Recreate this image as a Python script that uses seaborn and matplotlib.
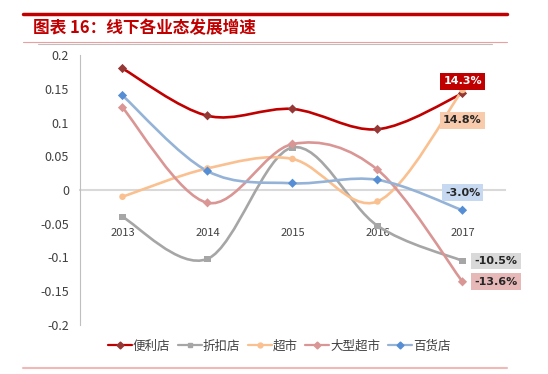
import numpy as np
import pandas as pd
import seaborn as sns
import matplotlib.pyplot as plt
from matplotlib.path import Path
from matplotlib.patches import PathPatch
from matplotlib.lines import Line2D

years = ['2013', '2014', '2015', '2016', '2017']
series = ['便利店', '折扣店', '超市', '大型超市', '百货店']
bianli = [0.180, 0.110, 0.120, 0.090, 0.143]
zhekou = [-0.040, -0.102, 0.063, -0.053, -0.105]
chaoshi = [-0.010, 0.032, 0.046, -0.017, 0.148]
daxing = [0.122, -0.019, 0.068, 0.030, -0.136]
baihuo = [0.140, 0.028, 0.010, 0.015, -0.030]
labels_2017 = ['14.3%', '-10.5%', '14.8%', '-13.6%', '-3.0%']

line_colors = ['#C00000', '#A6A6A6', '#FAC090', '#D99694', '#95B3D7']
marker_colors = ['#953735', '#A6A6A6', '#FAC090', '#D99694', '#558ED5']
marker_shapes = ['D', 's', 'o', 'D', 'D']
box_colors = ['#C00000', '#D9D9D9', '#F8CBAD', '#E6B9B8', '#C6D9F1']
text_colors = ['white', '#262626', '#262626', '#262626', '#262626']

sns.set_style('white')
plt.rcParams['font.family'] = ['Noto Sans CJK SC', 'DejaVu Sans']

values = [bianli, zhekou, chaoshi, daxing, baihuo]
df = pd.DataFrame({
    'x': np.tile(np.arange(len(years)), len(series)),
    'y': np.concatenate(values),
    'series': np.repeat(series, len(years)),
})

fig = plt.figure(figsize=(5.48, 3.74), dpi=100)
ax = fig.add_axes([80 / 548, 1 - 325 / 374, 425 / 548, 270 / 374])


def smooth_path(xs, ys):
    # excel style smoothing: catmull-rom -> cubic bezier
    pts = np.column_stack([xs, ys]).astype(float)
    verts = [pts[0]]
    codes = [Path.MOVETO]
    n = len(pts)
    for i in range(n - 1):
        p0 = pts[max(i - 1, 0)]
        p1 = pts[i]
        p2 = pts[i + 1]
        p3 = pts[min(i + 2, n - 1)]
        c1 = p1 + (p2 - p0) / 6
        c2 = p2 - (p3 - p1) / 6
        verts += [c1, c2, p2]
        codes += [Path.CURVE4] * 3
    return Path(verts, codes)


for name, vals, lc in zip(series, values, line_colors):
    ax.add_patch(PathPatch(smooth_path(np.arange(len(years)), vals),
                           facecolor='none', edgecolor=lc, lw=1.9, zorder=2))

sns.scatterplot(data=df, x='x', y='y', hue='series', style='series',
                palette=dict(zip(series, marker_colors)),
                markers=dict(zip(series, marker_shapes)),
                s=22, edgecolor='none', legend=False, ax=ax, zorder=3)

# data labels for 2017
offsets = [(0, 0.018), (0.14, 0.0), (0.0, -0.045), (0.14, 0.0), (0.0, 0.026)]
aligns = ['center', 'left', 'center', 'left', 'center']
for vals, lab, (dx, dy), ha, bc, tc in zip(values, labels_2017, offsets, aligns, box_colors, text_colors):
    ax.text(4 + dx, vals[4] + dy, lab, ha=ha, va='center', fontsize=8,
            fontweight='bold', color=tc, family=['DejaVu Sans'],
            bbox=dict(boxstyle='square,pad=0.3', fc=bc, ec='none'), zorder=5)

ax.set_xlim(-0.5, 4.5)
ax.set_ylim(-0.2, 0.2)
ax.set_yticks(np.arange(-0.2, 0.201, 0.05))
ax.set_yticklabels(['-0.2', '-0.15', '-0.1', '-0.05', '0', '0.05', '0.1', '0.15', '0.2'])
ax.set_xticks(range(len(years)))
ax.set_xticklabels(years)
ax.set_xlabel('')
ax.set_ylabel('')
ax.tick_params(axis='x', length=0, pad=27, labelsize=8, labelcolor='#404040')
ax.tick_params(axis='y', length=0, pad=8, labelsize=9, labelcolor='#404040')
ax.spines['bottom'].set_position(('data', 0))
ax.spines['bottom'].set_color('#D9D9D9')
ax.spines['bottom'].set_linewidth(1.5)
ax.spines['bottom'].set_zorder(1)
ax.spines['left'].set_color('#BFBFBF')
ax.spines['top'].set_visible(False)
ax.spines['right'].set_visible(False)
ax.patch.set_alpha(0)

handles = [Line2D([], [], color=lc, lw=1.6, marker=m, markersize=3.5,
                  markerfacecolor=mc, markeredgecolor=mc)
           for lc, mc, m in zip(line_colors, marker_colors, marker_shapes)]
fig.legend(handles, series, loc='center', bbox_to_anchor=(279 / 548, 1 - 346 / 374),
           ncol=5, frameon=False, fontsize=9, handlelength=1.9, handletextpad=0.1,
           columnspacing=0.6, labelcolor='#404040')

# header decorations
fig.add_artist(Line2D([23 / 548, 507 / 548], [1 - 14 / 374] * 2, color='#C00000', lw=2.5))
fig.add_artist(Line2D([23 / 548, 507 / 548], [1 - 42 / 374] * 2, color='#E8A0A0', lw=0.8))
fig.add_artist(Line2D([38 / 548, 492 / 548], [1 - 44 / 374] * 2, color='#BFBFBF', lw=0.8))
fig.add_artist(Line2D([23 / 548, 507 / 548], [1 - 368 / 374] * 2, color='#F2B8B8', lw=1.5))
fig.text(33 / 548, 1 - 28 / 374, '图表 16：线下各业态发展增速', color='#C00000',
         fontsize=12, fontweight='bold', style='italic', va='center', ha='left')

fig.savefig('out.png', dpi=100)
